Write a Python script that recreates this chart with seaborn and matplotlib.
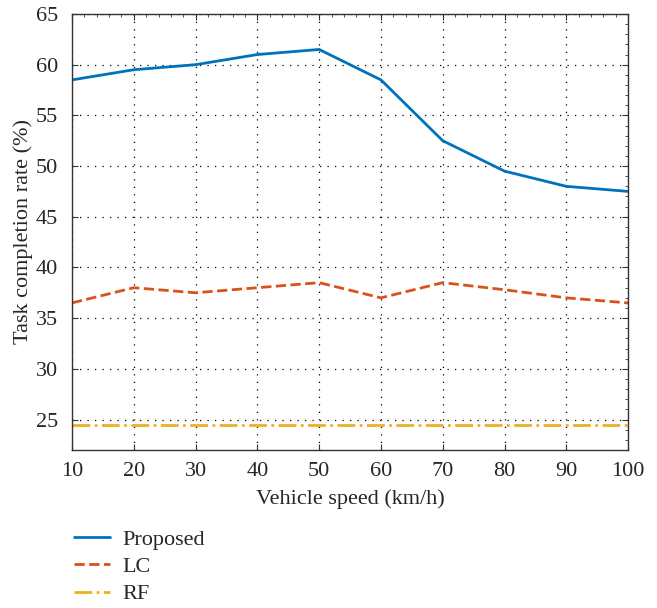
import matplotlib
matplotlib.use("Agg")
import matplotlib.pyplot as plt
from matplotlib.ticker import MultipleLocator
import seaborn as sns
import pandas as pd

speed = [10, 20, 30, 40, 50, 60, 70, 80, 90, 100]
proposed = [58.5, 59.5, 60.0, 61.0, 61.5, 58.5, 52.5, 49.5, 48.0, 47.5]
lc = [36.5, 38.0, 37.5, 38.0, 38.5, 37.0, 38.5, 37.8, 37.0, 36.5]
rf = [24.5, 24.5, 24.5, 24.5, 24.5, 24.5, 24.5, 24.5, 24.5, 24.5]
series_names = ["Proposed", "LC", "RF"]

sns.set_style("ticks")
plt.rcParams["font.family"] = ["Liberation Serif", "DejaVu Serif"]

df = pd.DataFrame({"Vehicle speed (km/h)": speed,
                   "Proposed": proposed, "LC": lc, "RF": rf})
long = df.melt(id_vars="Vehicle speed (km/h)", var_name="Method",
               value_name="Task completion rate (%)")

fig = plt.figure(figsize=(6.57, 6.08), dpi=100)
ax = fig.add_axes([0.1096, 0.26, 0.8464, 0.717])

palette = {"Proposed": "#0072BD", "LC": "#D95319", "RF": "#EDB120"}
styles = {"Proposed": "-", "LC": "--", "RF": "-."}
for name in series_names:
    sub = long[long["Method"] == name]
    sns.lineplot(data=sub, x="Vehicle speed (km/h)", y="Task completion rate (%)",
                 ax=ax, color=palette[name], linestyle=styles[name],
                 linewidth=2.0, label=name)

ax.set_xlim(10, 100)
ax.set_ylim(22, 65)
ax.set_xticks(speed)
ax.set_yticks([25, 30, 35, 40, 45, 50, 55, 60, 65])
ax.xaxis.set_minor_locator(MultipleLocator(2))
ax.yaxis.set_minor_locator(MultipleLocator(1))
ax.tick_params(which="both", direction="in", top=True, right=True,
               labelsize=16, color="#333333")
ax.tick_params(which="major", length=4)
ax.tick_params(which="minor", length=2)
ax.tick_params(which="minor", bottom=False, left=False)
ax.tick_params(axis="x", which="major", pad=9)
ax.tick_params(axis="y", which="major", pad=10)
ax.grid(True, which="major", linestyle=(0, (1, 5)), color="black", linewidth=0.9)
for sp in ax.spines.values():
    sp.set_color("#333333")
    sp.set_linewidth(1.0)

ax.set_xlabel("Vehicle speed (km/h)", fontsize=16, labelpad=6)
ax.set_ylabel("Task completion rate (%)", fontsize=16, labelpad=2)

leg = ax.legend(loc="upper left", bbox_to_anchor=(-0.012, -0.162), borderaxespad=0,
                frameon=False, fontsize=16, handlelength=1.6,
                handletextpad=0.55, labelspacing=0.3)

fig.savefig("out.png", dpi=100)
